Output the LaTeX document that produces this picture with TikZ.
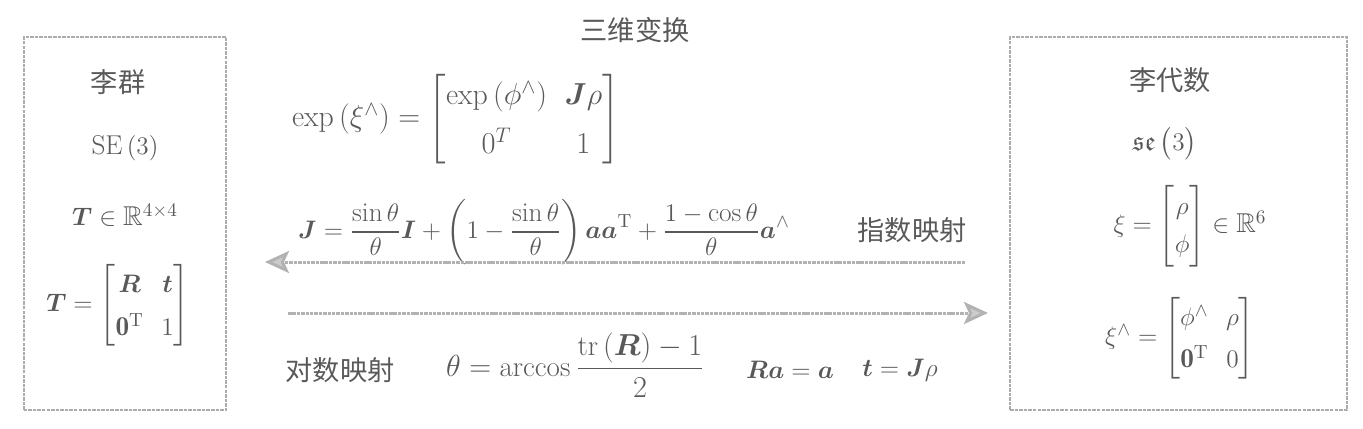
\documentclass[tikz,border=0pt]{standalone}
\usepackage{amsmath,amssymb}
\usepackage{bm}
\usepackage{fontspec}
\newfontfamily\cjk{Noto Sans CJK SC}
\usepackage{xcolor}
\usetikzlibrary{arrows.meta}
\definecolor{ink}{gray}{0.35}
\renewcommand{\arraystretch}{1.35}

\begin{document}
\begin{tikzpicture}[font=\fontsize{15.5}{18}\selectfont, color=ink,
  groupbox/.style={draw=gray!65, line width=1.2pt, dash pattern=on 2pt off 0.6pt},
  maparrow/.style={draw=gray!60, line width=1.7pt, dash pattern=on 2pt off 0.5pt,
    -{Stealth[length=4.8mm,width=4.4mm,inset=1mm,fill=gray!40,color=gray!60]}}]
  \useasboundingbox (0,0) rectangle (27.26,8.56);
  % Lie group
  \draw[groupbox] (0.48,0.36) rectangle (4.52,7.82);
  \node (liqun) at (2.36,6.92) {\cjk 李群};
  \node (SEthree) at (2.5,5.6) {$\mathrm{SE}\,(3)$};
  \node (Tspace) at (2.5,4.26) {$\bm{T}\in\mathbb{R}^{4\times4}$};
  \node (Tmat) at (2.36,2.45) {$\bm{T}=\begin{bmatrix}\bm{R} & \bm{t}\\ \mathbf{0}^{\mathrm{T}} & 1\end{bmatrix}$};
  % Lie algebra
  \draw[groupbox] (20.2,0.36) rectangle (26.94,7.82);
  \node (lidaishu) at (23.4,6.96) {\cjk 李代数};
  \node[inner sep=0pt] (sethree) at (23.3,5.68) {$\mathfrak{se}\,\bigl(3\bigr)$};
  \node[inner sep=0pt] (xi) at (23.8,4.04)
    {\renewcommand{\arraystretch}{1.2}$\xi=\begin{bmatrix}\rho\\ \phi\end{bmatrix}\in\mathbb{R}^{6}$};
  \node (xihat) at (23.6,1.8) {$\xi^{\wedge}=\begin{bmatrix}\phi^{\wedge} & \rho\\ \mathbf{0}^{\mathrm{T}} & 0\end{bmatrix}$};
  % maps
  \node[inner sep=1pt] (title) at (12.7,7.96) {\cjk 三维变换};
  \node[anchor=west, inner sep=1pt, font=\fontsize{17}{20}\selectfont] (expxi) at (5.8,6.18)
    {\renewcommand{\arraystretch}{1.4}$\exp\left(\xi^{\wedge}\right)=\begin{bmatrix}\exp\left(\phi^{\wedge}\right) & \bm{J}\rho\\ 0^{T} & 1\end{bmatrix}$};
  \node[anchor=west] (jac) at (5.84,3.92) {$\displaystyle \bm{J}=\frac{\sin\theta}{\theta}\bm{I}+\left(1-\frac{\sin\theta}{\theta}\right)\bm{a}\bm{a}^{\mathrm{T}}+\frac{1-\cos\theta}{\theta}\bm{a}^{\wedge}$};
  \node (explabel) at (18.24,3.96) {\cjk 指数映射};
  \coordinate (expS) at (19.3,3.32);
  \coordinate (expE) at (5.3,3.32);
  \coordinate (logS) at (5.76,2.3);
  \coordinate (logE) at (19.76,2.3);
  \draw[maparrow] (expS) -- (expE);
  \draw[maparrow] (logS) -- (logE);
  \node (loglabel) at (6.8,1.16) {\cjk 对数映射};
  \node[anchor=west, font=\fontsize{16.5}{19}\selectfont] (theta) at (8.8,1.26) {$\displaystyle \theta=\arccos\frac{\operatorname{tr}\left(\bm{R}\right)-1}{2}$};
  \node (raa) at (15.8,1.16) {$\bm{R}\bm{a}=\bm{a}$};
  \node (tjr) at (18.0,1.16) {$\bm{t}=\bm{J}\rho$};
\end{tikzpicture}
\end{document}
